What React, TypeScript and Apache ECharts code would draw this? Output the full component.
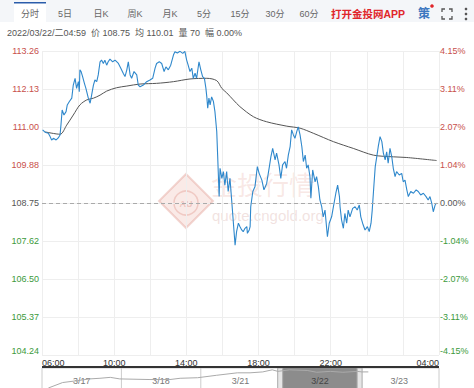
import React, { useEffect, useRef } from "react";
import * as echarts from "echarts";

// ---------- data ----------
const BASE = 108.75; // previous close (0.00%)
const STEP = 1.1275; // tick step in price units
const priceTickLabels = ["104.24", "105.37", "106.50", "107.62", "108.75", "109.88", "111.00", "112.13", "113.26"];
const pctTickLabels = ["-4.15%", "-3.11%", "-2.07%", "-1.04%", "0.00%", "1.04%", "2.07%", "3.11%", "4.15%"];
const timeTickLabels: Record<number, string> = { 0: "06:00", 240: "10:00", 480: "14:00", 720: "18:00", 960: "22:00", 1320: "04:00" };

// minutes after 06:00
const priceMinutes = [
  2, 10, 21, 27, 32, 38, 47, 54, 60, 63, 67, 73, 80, 84, 91, 99, 104, 110, 115, 121, 124, 126, 130, 135, 141, 146, 154, 160, 165, 171,
  176, 182, 187, 193, 198, 204, 209, 215, 220, 226, 235, 243, 254, 262, 270, 276, 282, 287, 293, 298, 306, 315, 320, 326, 337, 348, 359, 368, 376, 381,
  390, 398, 406, 412, 420, 428, 437, 442, 450, 459, 468, 475, 481, 486, 492, 498, 503, 509, 514, 522, 528, 534, 540, 545, 548, 551, 555, 559, 564, 570,
  575, 581, 584, 586, 589, 592, 598, 603, 608, 614, 619, 625, 631, 636, 642, 647, 653, 658, 664, 669, 675, 681, 683, 689, 692, 694, 701, 708, 716, 722,
  731, 738, 747, 756, 761, 767, 775, 780, 788, 794, 800, 808, 813, 819, 825, 830, 836, 841, 847, 852, 858, 864, 869, 875, 880, 885, 891, 894, 900, 908,
  913, 919, 924, 930, 935, 941, 949, 955, 963, 969, 977, 983, 989, 991, 996, 1002, 1007, 1013, 1018, 1024, 1033, 1041, 1048, 1055, 1060, 1066, 1074, 1082, 1088, 1094,
  1098, 1104, 1108, 1113, 1118, 1124, 1130, 1135, 1141, 1146, 1151, 1157, 1163, 1168, 1174, 1179, 1188, 1196, 1201, 1207, 1213, 1218, 1226, 1235, 1244, 1251, 1259, 1268, 1277, 1284,
  1290, 1296, 1301, 1307, 1312,
];
const prices = [
  110.92, 110.85, 110.82, 110.72, 110.62, 110.67, 110.62, 110.68, 110.77, 111.06, 111.51, 111.36, 111.46, 111.66, 111.76, 111.86, 112.25, 112.45, 112.15, 112.35,
  112.05, 112.70, 112.65, 112.50, 112.30, 112.15, 111.86, 111.71, 111.95, 112.25, 112.40, 112.35, 112.55, 112.94, 112.99, 112.89, 112.99, 112.84, 112.94, 113.02,
  112.94, 112.99, 112.89, 112.75, 112.60, 112.50, 112.70, 112.94, 112.55, 112.45, 112.65, 112.55, 112.25, 112.20, 112.25, 112.35, 112.40, 112.45, 112.75, 112.89,
  112.94, 112.89, 112.65, 112.79, 112.70, 112.84, 113.14, 113.24, 113.20, 113.25, 113.19, 113.25, 112.99, 112.84, 112.65, 112.75, 112.45, 112.60, 112.45, 112.94,
  112.70, 112.50, 112.45, 112.15, 111.90, 111.56, 111.86, 111.66, 111.90, 111.76, 111.46, 110.87, 110.17, 109.68, 108.94, 109.78, 109.48, 109.68, 109.28, 109.68,
  109.09, 109.48, 108.79, 108.20, 107.50, 107.90, 108.15, 108.05, 107.95, 107.90, 108.00, 108.05, 107.85, 107.95, 108.05, 108.64, 109.09, 109.23, 109.83, 109.63,
  109.43, 109.14, 109.33, 109.83, 110.12, 110.37, 110.03, 110.23, 109.88, 109.48, 109.88, 109.98, 109.78, 110.17, 110.42, 110.92, 110.77, 110.67, 110.87, 111.01,
  110.77, 110.42, 109.98, 110.17, 109.78, 109.88, 109.53, 108.89, 109.73, 109.38, 109.53, 109.23, 108.84, 108.64, 108.34, 108.54, 107.75, 108.15, 108.34, 108.64,
  109.04, 109.28, 108.94, 108.64, 108.25, 108.00, 108.44, 108.15, 108.54, 108.34, 108.59, 108.64, 108.54, 108.69, 108.34, 108.15, 107.95, 108.05, 107.90, 108.15,
  108.54, 109.33, 109.83, 110.12, 110.42, 110.72, 110.57, 110.23, 110.03, 110.27, 109.93, 110.37, 110.12, 109.78, 109.53, 109.68, 109.58, 109.63, 109.38, 109.43,
  109.14, 108.94, 109.09, 109.04, 109.14, 109.09, 108.99, 109.04, 108.94, 108.84, 108.94, 108.74, 108.49, 108.69, 108.75,
];
const avgMinutes = [10, 60, 82, 104, 126, 149, 171, 193, 215, 248, 282, 326, 381, 437, 492, 548, 581, 598, 614, 636, 658, 703, 747, 814, 858, 902, 969, 1035, 1102, 1168, 1213, 1312];
const avgPrices = [110.86, 110.79, 111.06, 111.36, 111.66, 111.81, 111.86, 111.95, 112.07, 112.17, 112.22, 112.28, 112.30, 112.35, 112.43, 112.45, 112.38, 112.15, 112.02, 111.81, 111.61, 111.31, 111.16, 111.03, 110.97, 110.82, 110.57, 110.37, 110.17, 110.12, 110.10, 110.01];

// navigator (days 3/17 .. 3/23)
const navDates = ["3/17", "3/18", "3/21", "3/22", "3/23"];
const navDays = [0.08, 0.26, 0.44, 0.6, 0.73, 0.86, 0.98, 1.36, 1.61, 1.74, 1.96, 2.2, 2.46, 2.62, 2.78, 2.9, 2.97, 3.12, 3.34, 3.46, 3.63, 3.79, 3.97, 4.03, 4.11];
const navValues = [93, 99, 101, 103, 103.7, 104.7, 103, 102.3, 102.3, 103.7, 104.3, 107, 109.7, 109.7, 110.7, 113, 111.3, 113, 112.3, 110.3, 111.3, 110.3, 111.3, 110.7, 110.7];
const selectedDay = 3;

const tabs = ["分时", "5日", "日K", "周K", "月K", "5分", "15分", "30分", "60分"];
const infoText = "2022/03/22/二04:59  价 108.75  均 110.01  量 70  幅 0.00%";

// ---------- layout ----------
const W = 474;
const H = 388;
const GL = 42;
const GW = 397;
const GT = 51;
const GH = 304;
const tabCenters = [30, 65, 101, 135, 170, 204, 240, 275, 309];
const FONT = "Arial, 'Liberation Sans', 'Noto Sans CJK SC', sans-serif";

const RED = "#c8504b";
const GREEN = "#3c9a3c";
const GRAY = "#555";

function labelColor(v: number) {
  if (v > 1e-6) return RED;
  if (v < -1e-6) return GREEN;
  return GRAY;
}
function idxOf(v: number) {
  return Math.round(v / STEP) + 4;
}

export default function App() {
  const ref = useRef<HTMLDivElement>(null);
  useEffect(() => {
    if (!ref.current) return;
    const chart = echarts.init(ref.current, undefined, { renderer: "svg" });
    const dayW = GW / navDates.length;
    const navTop = 368;

    const graphics: any[] = [];
    // tab bar
    graphics.push({ type: "rect", shape: { x: 0, y: 0, width: W, height: 22 }, style: { fill: "#f4f6f9" }, z: -10 });
    graphics.push({ type: "rect", shape: { x: 14, y: 2, width: 32, height: 20 }, style: { fill: "#fff" }, z: -9 });
    graphics.push({ type: "rect", shape: { x: 14, y: 2, width: 32, height: 1.5 }, style: { fill: "#2a5caa" }, z: -8 });
    tabs.forEach((t, i) => {
      graphics.push({
        type: "text",
        x: tabCenters[i],
        y: 14,
        style: { text: t, fill: "#666", font: `9px ${FONT}`, align: "center", verticalAlign: "middle" },
      });
    });
    graphics.push({
      type: "text",
      x: 331,
      y: 13.5,
      style: { text: "打开金投网APP", fill: "#e0262b", font: `bold 10.5px ${FONT}`, align: "left", verticalAlign: "middle" },
    });
    graphics.push({
      type: "text",
      x: 424,
      y: 14,
      style: { text: "策", fill: "#3d78c0", font: `bold 12px ${FONT}`, align: "center", verticalAlign: "middle" },
    });
    graphics.push({ type: "circle", shape: { cx: 432, cy: 6, r: 1.8 }, style: { fill: "#e0262b" } });
    // fullscreen icon
    const fx0 = 442, fx1 = 452, fy0 = 9, fy1 = 19, c = 3;
    [
      [[fx0, fy0 + c], [fx0, fy0], [fx0 + c, fy0]],
      [[fx1 - c, fy0], [fx1, fy0], [fx1, fy0 + c]],
      [[fx0, fy1 - c], [fx0, fy1], [fx0 + c, fy1]],
      [[fx1 - c, fy1], [fx1, fy1], [fx1, fy1 - c]],
    ].forEach((pts) => graphics.push({ type: "polyline", shape: { points: pts }, style: { stroke: "#555", lineWidth: 1.3, fill: "none" } }));
    [9, 14, 19].forEach((cy) => graphics.push({ type: "circle", shape: { cx: 466, cy, r: 1.3 }, style: { fill: "#555" } }));
    // info line
    graphics.push({
      type: "text",
      x: 7,
      y: 33,
      style: { text: infoText, fill: "#555", font: `9px ${FONT}`, align: "left", verticalAlign: "middle" },
    });

    // watermark
    graphics.push({
      type: "polygon",
      shape: { points: [[186, 174], [213, 201], [186, 228], [159, 201]] },
      style: { fill: "rgba(235,170,160,0.25)", stroke: "rgba(220,140,130,0.35)", lineWidth: 2 },
      z: -5,
    });
    graphics.push({ type: "circle", shape: { cx: 186, cy: 203, r: 12 }, style: { fill: "none", stroke: "rgba(220,140,130,0.35)", lineWidth: 1.5 }, z: -5 });
    graphics.push({
      type: "text",
      x: 186,
      y: 204,
      style: { text: "AU", fill: "rgba(220,140,130,0.4)", font: `bold 9px ${FONT}`, align: "center", verticalAlign: "middle" },
      z: -5,
    });
    graphics.push({
      type: "text",
      x: 211,
      y: 186,
      style: { text: "金投行情", fill: "rgba(225,150,140,0.22)", font: `26px ${FONT}`, align: "left", verticalAlign: "middle" },
      z: -5,
    });
    graphics.push({
      type: "text",
      x: 212,
      y: 215,
      style: { text: "quote.cngold.org", fill: "rgba(215,170,165,0.35)", font: `15px ${FONT}`, align: "left", verticalAlign: "middle" },
      z: -5,
    });

    // navigator
    graphics.push({ type: "rect", shape: { x: GL, y: navTop, width: GW, height: H - navTop + 2 }, style: { fill: "#fff", stroke: "#ccc", lineWidth: 1 }, z: -4 });
    graphics.push({
      type: "rect",
      shape: { x: GL + selectedDay * dayW, y: navTop, width: dayW, height: H - navTop + 2 },
      style: { fill: "#8c8c8c" },
      z: -3,
    });
    [GL + selectedDay * dayW - 2.5, GL + (selectedDay + 1) * dayW - 2.5].forEach((hx) =>
      graphics.push({ type: "rect", shape: { x: hx, y: navTop, width: 5, height: H - navTop + 2 }, style: { fill: "#e6e6e6", stroke: "#aaa", lineWidth: 1 }, z: -2 })
    );
    for (let i = 1; i < navDates.length; i++) {
      if (i === selectedDay || i === selectedDay + 1) continue;
      graphics.push({ type: "line", shape: { x1: GL + i * dayW, y1: navTop, x2: GL + i * dayW, y2: H + 2 }, style: { stroke: "#ccc", lineWidth: 1 }, z: -3 });
    }
    navDates.forEach((d, i) => {
      graphics.push({
        type: "text",
        x: GL + (i + 0.5) * dayW,
        y: 381,
        style: { text: d, fill: i === selectedDay ? "#444" : "#777", font: `9px ${FONT}`, align: "center", verticalAlign: "middle" },
        z: -1,
      });
    });
    graphics.push({ type: "line", shape: { x1: GL, y1: 367, x2: GL + GW, y2: 367 }, style: { stroke: "#333", lineWidth: 2 }, z: 10 });

    const option: any = {
      animation: false,
      grid: [
        { left: GL, top: GT, width: GW, height: GH },
        { left: GL, top: navTop, width: GW, height: 22 },
      ],
      xAxis: [
        {
          type: "value",
          gridIndex: 0,
          min: 0,
          max: 1320,
          interval: 120,
          axisLine: { show: false },
          axisTick: { show: false },
          splitLine: { show: true, lineStyle: { color: "#eeeeee", width: 1 } },
          axisLabel: {
            show: true,
            margin: 3,
            color: "#333",
            fontSize: 9,
            fontFamily: FONT,
            showMinLabel: true,
            showMaxLabel: true,
            alignMinLabel: "left",
            alignMaxLabel: "right",
            formatter: (v: number) => timeTickLabels[Math.round(v)] || "",
          },
        },
        {
          type: "value",
          gridIndex: 1,
          min: 0,
          max: navDates.length,
          show: false,
          splitLine: { show: false },
        },
      ],
      yAxis: [
        {
          type: "value",
          gridIndex: 0,
          position: "left",
          min: -4 * STEP,
          max: 4 * STEP,
          interval: STEP,
          axisLine: { show: false },
          axisTick: { show: false },
          splitLine: { show: true, lineStyle: { color: "#eeeeee", width: 1 } },
          axisLabel: {
            margin: 3,
            fontSize: 9,
            fontFamily: FONT,
            verticalAlignMinLabel: "bottom",
            color: (v: any) => labelColor(Number(v)),
            formatter: (v: number) => priceTickLabels[idxOf(v)] ?? "",
          },
        },
        {
          type: "value",
          gridIndex: 1,
          min: 93,
          max: 115,
          show: false,
          splitLine: { show: false },
        },
        {
          type: "value",
          gridIndex: 0,
          position: "right",
          min: -4 * STEP,
          max: 4 * STEP,
          interval: STEP,
          axisLine: { show: false },
          axisTick: { show: false },
          splitLine: { show: false },
          axisLabel: {
            margin: 1,
            fontSize: 9,
            fontFamily: FONT,
            verticalAlignMinLabel: "bottom",
            color: (v: any) => labelColor(Number(v)),
            formatter: (v: number) => pctTickLabels[idxOf(v)] ?? "",
          },
        },
      ],
      graphic: { elements: graphics },
      series: [
        {
          type: "line",
          name: "avg",
          xAxisIndex: 0,
          yAxisIndex: 0,
          data: avgMinutes.map((m, i) => [m, avgPrices[i] - BASE]),
          symbol: "none",
          smooth: 0.3,
          lineStyle: { color: "#555", width: 1 },
          z: 3,
          silent: true,
        },
        {
          type: "line",
          name: "price",
          xAxisIndex: 0,
          yAxisIndex: 0,
          data: priceMinutes.map((m, i) => [m, prices[i] - BASE]),
          symbol: "none",
          lineStyle: { color: "#2f88cc", width: 1.1 },
          z: 4,
          silent: true,
          markLine: {
            silent: true,
            symbol: "none",
            label: { show: false },
            lineStyle: { color: "#aaa", type: [4, 3], width: 1 },
            data: [{ yAxis: 0 }],
          },
        },
        {
          type: "line",
          name: "nav",
          xAxisIndex: 1,
          yAxisIndex: 1,
          data: navDays.map((d, i) => [d, navValues[i]]),
          symbol: "none",
          lineStyle: { color: "#aaa", width: 1 },
          z: 5,
          silent: true,
        },
      ],
    };
    chart.setOption(option);
    return () => chart.dispose();
  }, []);
  return <div ref={ref} style={{ position: "absolute", left: 0, top: 0, width: W, height: H }} />;
}
